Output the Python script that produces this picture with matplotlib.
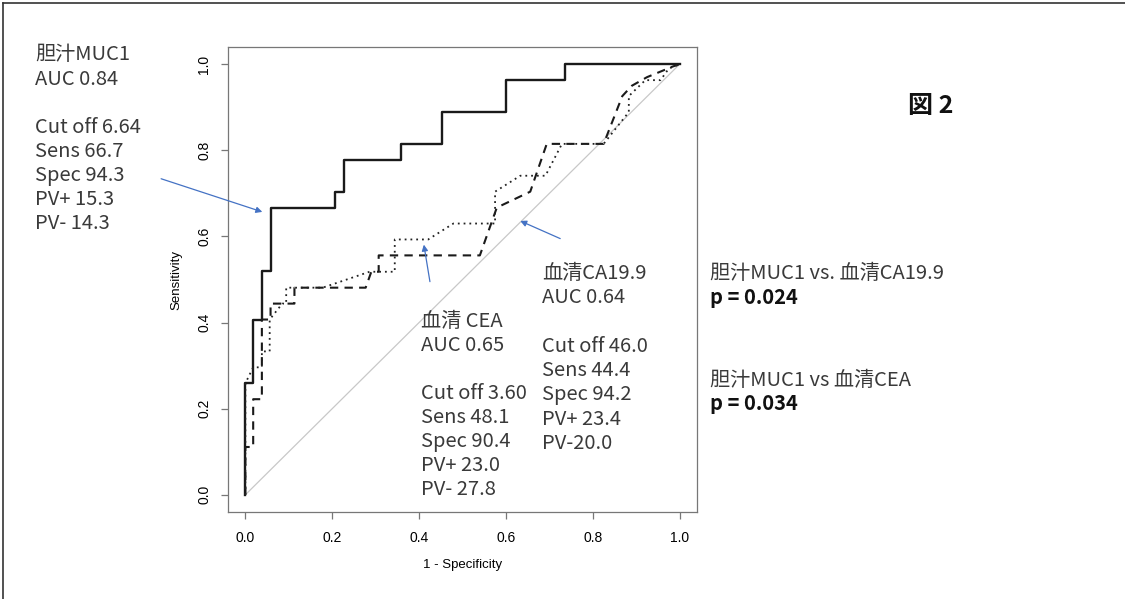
import numpy as np
import matplotlib
matplotlib.use("Agg")
from matplotlib import pyplot as plt
from matplotlib.lines import Line2D

plt.rcParams['font.family'] = ['Liberation Sans', 'DejaVu Sans']
JP = ['Noto Sans CJK JP', 'DejaVu Sans']

# ROC curve vertices (1 - specificity, sensitivity)
muc1_fpr = [0, 0, 0.018, 0.018, 0.038, 0.038, 0.058, 0.058, 0.207, 0.207, 0.227, 0.227,
            0.359, 0.359, 0.452, 0.452, 0.601, 0.601, 0.737, 0.737, 1.0]
muc1_tpr = [0, 0.259, 0.259, 0.407, 0.407, 0.519, 0.519, 0.667, 0.667, 0.704, 0.704, 0.778,
            0.778, 0.815, 0.815, 0.889, 0.889, 0.963, 0.963, 1.0, 1.0]

ca199_fpr = [0, 0, 0.018, 0.018, 0.038, 0.038, 0.058, 0.058, 0.113, 0.113, 0.277, 0.290,
             0.307, 0.307, 0.540, 0.579, 0.656, 0.694, 0.825, 0.868, 0.890, 0.925, 0.985, 1.0]
ca199_tpr = [0, 0.111, 0.111, 0.222, 0.222, 0.407, 0.407, 0.444, 0.444, 0.481, 0.481, 0.518,
             0.518, 0.556, 0.556, 0.667, 0.704, 0.815, 0.815, 0.926, 0.950, 0.970, 0.995, 1.0]

cea_fpr = [0, 0, 0.018, 0.038, 0.038, 0.056, 0.056, 0.085, 0.094, 0.094, 0.178, 0.286, 0.344,
           0.344, 0.421, 0.479, 0.575, 0.575, 0.633, 0.691, 0.729, 0.825, 0.883, 0.883, 0.921,
           0.956, 0.975, 1.0]
cea_tpr = [0, 0.259, 0.296, 0.296, 0.333, 0.333, 0.407, 0.444, 0.444, 0.481, 0.481, 0.518, 0.518,
           0.593, 0.593, 0.630, 0.630, 0.704, 0.741, 0.741, 0.815, 0.815, 0.889, 0.926, 0.963,
           0.963, 0.990, 1.0]

muc1_lines = ["胆汁MUC1", "AUC 0.84", "", "Cut off 6.64", "Sens 66.7", "Spec 94.3", "PV+ 15.3", "PV- 14.3"]
cea_lines = ["血清 CEA", "AUC 0.65", "", "Cut off 3.60", "Sens 48.1", "Spec 90.4", "PV+ 23.0", "PV- 27.8"]
ca199_lines = ["血清CA19.9", "AUC 0.64", "", "Cut off 46.0", "Sens 44.4", "Spec 94.2", "PV+ 23.4", "PV-20.0"]
comparisons = [("胆汁MUC1 vs. 血清CA19.9", "p = 0.024"), ("胆汁MUC1 vs 血清CEA", "p = 0.034")]

W, H = 1125, 599
fig = plt.figure(figsize=(W / 100, H / 100), dpi=100)
ax = fig.add_axes([228 / W, 1 - 512 / H, (697 - 228) / W, (512 - 47) / H])

ax.plot([0, 1], [0, 1], color='#c8c8c8', lw=0.9)
ax.plot(muc1_fpr, muc1_tpr, color='#1a1a1a', lw=1.7)
ax.plot(ca199_fpr, ca199_tpr, color='#1a1a1a', lw=1.5, linestyle=(0, (4, 3)))
ax.plot(cea_fpr, cea_tpr, color='#222222', lw=1.3, linestyle=(0, (1, 2.2)))

ax.set_xlim(-0.04, 1.04)
ax.set_ylim(-0.04, 1.04)
ticks = [0.0, 0.2, 0.4, 0.6, 0.8, 1.0]
ax.set_xticks(ticks)
ax.set_yticks(ticks)
ax.set_xticklabels(['%.1f' % t for t in ticks], fontsize=10)
ax.set_yticklabels(['%.1f' % t for t in ticks], fontsize=10, rotation=90, va='center')
ax.tick_params(axis='both', direction='out', length=5, color='#777777', width=0.9)
ax.tick_params(axis='x', pad=9)
ax.tick_params(axis='y', pad=7)
for sp in ax.spines.values():
    sp.set_color('#777777')
    sp.set_linewidth(0.9)
ax.set_xlabel('1 - Specificity', fontsize=9.5, labelpad=10)
ax.set_ylabel('Sensitivity', fontsize=9.5, labelpad=11)

# arrows pointing at the curves
blue = '#4472C4'
arrows = [((0.039, 0.657), (-0.194, 0.734)),
          ((0.411, 0.581), (0.425, 0.495)),
          ((0.633, 0.636), (0.725, 0.595))]
for head, tail in arrows:
    ax.annotate('', xy=head, xytext=tail, annotation_clip=False,
                arrowprops=dict(arrowstyle='-|>', color=blue, lw=0.9,
                                mutation_scale=9, shrinkA=0, shrinkB=0))


def put_lines(lines, x, y, step, **kw):
    for i, s in enumerate(lines):
        if s:
            fig.text(x / W, 1 - (y + i * step) / H, s, va='center', ha='left', **kw)


txt = dict(family=JP, fontsize=14.5, color='#3a3a3a')
put_lines(muc1_lines, 35, 55, 24.1, **txt)
put_lines(cea_lines, 421, 321.7, 24, **txt)
put_lines(ca199_lines, 542, 273.3, 24.3, **txt)

for (title, p), y in zip(comparisons, [273.3, 380]):
    fig.text(710 / W, 1 - y / H, title, va='center', ha='left', **txt)
    fig.text(710 / W, 1 - (y + 24) / H, p, va='center', ha='left', family=JP,
             fontsize=14.5, fontweight='bold', color='#111111')

fig.text(931 / W, 1 - 105.7 / H, '図 2', va='center', ha='center', family=JP,
         fontsize=18, fontweight='bold', color='#111111')

# frame around the figure panel
fig.add_artist(Line2D([3 / W, 3 / W], [0, 1 - 3 / H], color='#333333', lw=1.2))
fig.add_artist(Line2D([3 / W, 1], [1 - 3 / H, 1 - 3 / H], color='#333333', lw=1.2))

fig.savefig('out.png', dpi=100)
